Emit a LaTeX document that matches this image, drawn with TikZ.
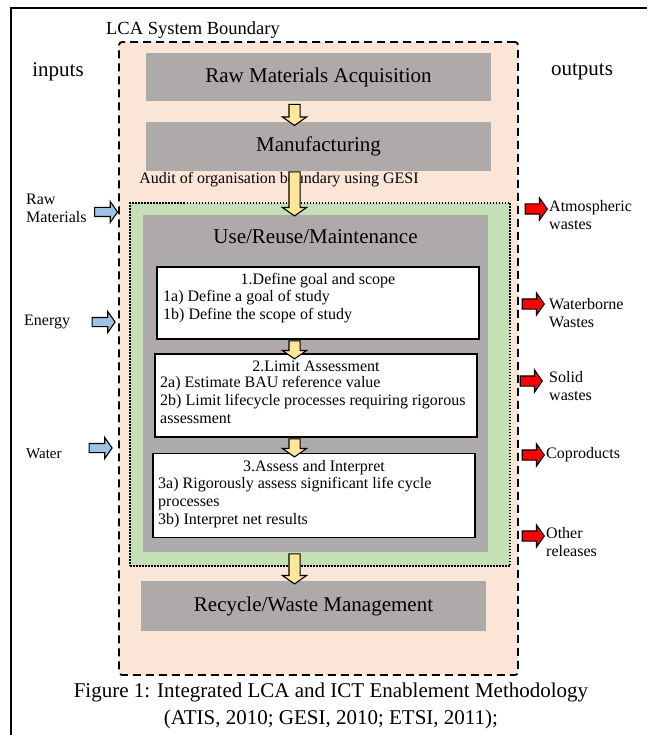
\documentclass[tikz,border=0pt]{standalone}
\usepackage{fontspec}
\setmainfont{Liberation Serif}
\usetikzlibrary{shapes.arrows}
\definecolor{peach}{HTML}{FBE5D6}
\definecolor{stagegray}{HTML}{AEAAAA}
\definecolor{usegreen}{HTML}{C5E0B4}
\definecolor{flowyellow}{HTML}{FFE699}
\definecolor{inblue}{HTML}{9DC3E6}
\def\sizeL{\fontsize{21}{25}\selectfont}
\def\sizeM{\fontsize{16}{18}\selectfont}
\tikzset{
  stage/.style={fill=stagegray, minimum width=345pt, inner sep=0pt, font=\sizeL},
  stepbox/.style={draw, line width=1.6pt, fill=white, minimum width=322pt, inner sep=0pt},
  steptext/.style={font=\sizeM, inner sep=0pt, align=left, anchor=north west},
  steptitle/.style={font=\sizeM, inner sep=0pt, anchor=base},
  sidelabel/.style={font=\sizeM, inner sep=0pt, align=left, anchor=west},
  blockarrow/.style={single arrow, draw, line width=1.1pt, inner xsep=0pt,
    single arrow tip angle=110, single arrow head indent=0pt},
  flow/.style={blockarrow, fill=flowyellow, rotate=-90, inner ysep=5pt,
    single arrow head extend=6.5pt},
  inflow/.style={blockarrow, fill=inblue, inner ysep=4pt,
    single arrow head extend=6pt, minimum height=23pt},
  outflow/.style={blockarrow, fill=red, inner ysep=4.5pt,
    single arrow head extend=6pt, minimum height=22pt}
}

\begin{document}
\begin{tikzpicture}[x=1pt,y=-1pt]
\useasboundingbox (0,0) rectangle (647,735);
\draw[line width=1.5pt] (11,735) -- (11,8) -- (647,8);

\node[draw, fill=peach, line width=1.8pt, dash pattern=on 8pt off 5pt,
  rounded corners=3pt, minimum width=399pt, minimum height=633pt] (lca) at (318.5,358.5) {};
\node[font=\fontsize{18.5}{22}\selectfont] (lcalabel) at (193,30) {LCA System Boundary};
\node[font=\sizeL] (inputs) at (58,72) {inputs};
\node[font=\sizeL] (outputs) at (582,72) {outputs};

\node[stage, minimum height=48pt] (rawmat) at (318.5,77) {Raw Materials Acquisition};
\node[stage, minimum height=49pt] (manuf) at (318.5,146.5) {Manufacturing};
\node[font=\sizeM, inner sep=0pt] (audit) at (279,180) {Audit of organisation boundary using GESI};

\node[draw, fill=usegreen, line width=1.5pt, dash pattern=on 1.5pt off 1.5pt,
  minimum width=380pt, minimum height=363pt] (gesi) at (320,384.5) {};
\node[fill=stagegray, minimum width=345pt, minimum height=337pt] (use) at (315.5,383.5) {};
\node[font=\sizeL] (uselabel) at (315.5,237) {Use/Reuse/Maintenance};

\node[flow, minimum height=21pt] (flow1) at (294.5,113) {};
\node[flow, minimum height=44pt] (flow2) at (294.5,192) {};

% steps of the method
\node[stepbox, minimum height=72pt] (goal) at (318,303) {};
\node[steptitle] (goaltitle) at (318,284) {1.Define goal and scope};
\node[steptext] (goaltext) at (163,290.5) {1a) Define a goal of study\\1b) Define the scope of study};

\node[stepbox, minimum height=83pt] (limit) at (316,395.5) {};
\node[steptitle] (limittitle) at (316,371) {2.Limit Assessment};
\node[steptext] (limittext) at (160,376.5) {2a) Estimate BAU reference value\\
  2b) Limit lifecycle processes requiring rigorous\\assessment};

\node[stepbox, minimum height=84pt] (assess) at (314,495.5) {};
\node[steptitle] (assesstitle) at (314,471) {3.Assess and Interpret};
\node[steptext] (assesstext) at (158,477.5) {3a) Rigorously assess significant life cycle\\
  processes\\3b) Interpret net results};

\node[flow, minimum height=18pt] (flow3) at (294.5,348) {};
\node[flow, minimum height=18pt] (flow4) at (294.5,446) {};

\node[stage, minimum height=50pt] (recycle) at (313.5,606) {Recycle/Waste Management};
\node[flow, minimum height=30pt] (flow5) at (294.5,567) {};

% inputs and outputs
\foreach \x/\y/\n in {104.5/212/raw, 102/322/energy, 99/448/water}
  \node[inflow] (in-\n) at (\x,\y) {};
\node[sidelabel] (rawlabel) at (26,208.5) {Raw\\Materials};
\node[sidelabel] (energylabel) at (24,322) {Energy};
\node[sidelabel, font=\fontsize{15}{18}\selectfont] (waterlabel) at (26,454) {Water};

\foreach \x/\y/\n in {534.5/209/atm, 531.5/304/waterborne, 529.5/381/solid,
  531.5/455/coprod, 531.5/536/other}
  \node[outflow] (out-\n) at (\x,\y) {};
\node[sidelabel] (atmlabel) at (549,215) {Atmospheric\\wastes};
\node[sidelabel] (waterbornelabel) at (549,313.5) {Waterborne\\Wastes};
\node[sidelabel] (solidlabel) at (549,386.5) {Solid\\wastes};
\node[sidelabel] (coprodlabel) at (546,455) {Coproducts};
\node[sidelabel] (otherlabel) at (546,542) {Other\\releases};

\node[font=\fontsize{21}{27}\selectfont, align=center, inner sep=0pt] (caption) at (331,706)
  {Figure 1: Integrated LCA and ICT Enablement Methodology\\(ATIS, 2010; GESI, 2010; ETSI, 2011);};
\end{tikzpicture}
\end{document}
